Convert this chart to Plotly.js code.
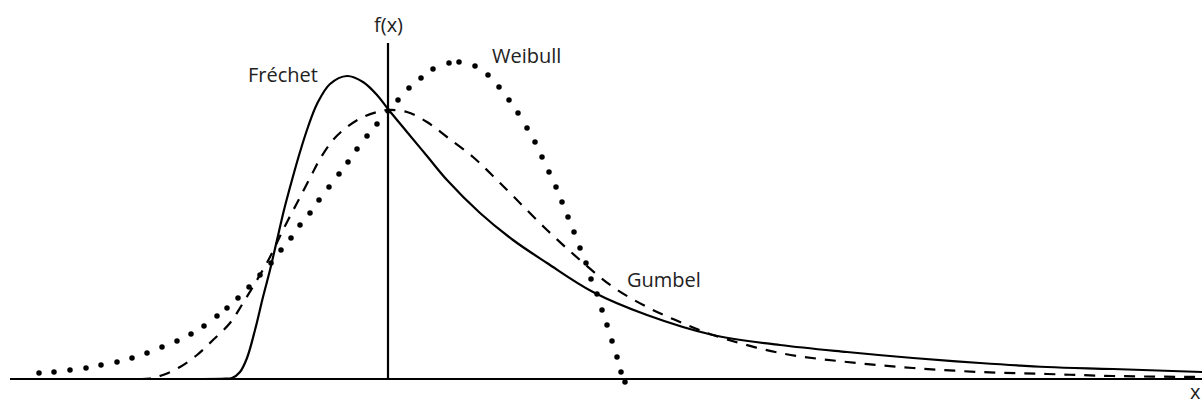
<!DOCTYPE html>
<html>
<head>
<meta charset="utf-8">
<script src="https://cdn.plot.ly/plotly-3.0.1.min.js"></script>
<style>html,body{margin:0;padding:0;background:#fff;}#chart{width:1202px;height:404px;}</style>
</head>
<body>
<div id="chart"></div>
<script>
// Fréchet density (solid)
const frechetX = [-1.88,-1.63,-1.56,-1.48,-1.41,-1.33,-1.25,-1.18,-1.11,-1.04,-0.96,-0.88,-0.80,-0.71,-0.58,-0.41,-0.25,-0.11,0,0.19,0.39,0.59,0.92,1.25,1.59,2.05,2.59,3.25,3.92,4.59,5.25,5.92,6.59,7.25,8.14];
const frechetY = [0,0.003,0.01,0.07,0.21,0.49,0.82,1.09,1.39,1.69,1.99,2.27,2.52,2.75,2.95,3.03,2.97,2.84,2.70,2.47,2.23,1.99,1.66,1.39,1.16,0.87,0.64,0.44,0.34,0.27,0.21,0.16,0.12,0.10,0.07];

// Gumbel density (dashed)
const gumbelX = [-2.48,-2.38,-2.25,-2.08,-1.91,-1.75,-1.58,-1.45,-1.31,-1.18,-1.05,-0.91,-0.78,-0.68,-0.55,-0.41,-0.25,-0.11,0,0.19,0.39,0.59,0.85,1.05,1.25,1.59,1.92,2.25,2.59,2.92,3.25,3.92,4.59,5.25,5.92,6.59,7.25,8.14];
const gumbelY = [0,0.005,0.04,0.12,0.24,0.39,0.56,0.76,0.99,1.22,1.49,1.76,2.01,2.20,2.39,2.52,2.62,2.67,2.69,2.67,2.57,2.42,2.22,2.03,1.83,1.49,1.19,0.92,0.72,0.57,0.44,0.26,0.17,0.11,0.07,0.05,0.03,0.02];

// Weibull density (dotted)
const weibullX = [-3.49,-3.34,-3.18,-3.02,-2.87,-2.71,-2.56,-2.41,-2.26,-2.11,-1.97,-1.84,-1.71,-1.61,-1.50,-1.39,-1.28,-1.17,-1.07,-0.97,-0.88,-0.78,-0.69,-0.59,-0.49,-0.40,-0.31,-0.21,-0.11,0,0.10,0.21,0.33,0.45,0.61,0.71,0.87,1.00,1.11,1.21,1.30,1.39,1.47,1.54,1.61,1.68,1.74,1.80,1.86,1.92,1.98,2.03,2.09,2.14,2.19,2.24,2.29,2.33,2.37];
const weibullY = [0.06,0.07,0.09,0.11,0.14,0.17,0.21,0.26,0.32,0.38,0.45,0.53,0.63,0.71,0.81,0.92,1.04,1.16,1.29,1.41,1.54,1.66,1.79,1.92,2.05,2.17,2.30,2.43,2.55,2.68,2.79,2.91,3.01,3.10,3.16,3.17,3.13,3.04,2.92,2.79,2.66,2.51,2.37,2.22,2.07,1.92,1.77,1.62,1.47,1.31,1.16,1.00,0.85,0.69,0.54,0.38,0.22,0.07,-0.03];

// Labels
const labelTexts = ['f(x)', 'Fréchet', 'Weibull', 'Gumbel', 'x'];
const labelX = [0, -1.05, 1.38, 2.76, 8.07];
const labelY = [3.55, 3.05, 3.24, 1.00, -0.12];

const traces = [
  {x: frechetX, y: frechetY, mode: 'lines', line: {color: '#000', width: 2.2, shape: 'spline', smoothing: 1}, name: 'Fréchet', hoverinfo: 'skip'},
  {x: gumbelX, y: gumbelY, mode: 'lines', line: {color: '#000', width: 2.2, dash: '11px,9px', shape: 'spline', smoothing: 1}, name: 'Gumbel', hoverinfo: 'skip'},
  {x: weibullX, y: weibullY, mode: 'markers', marker: {color: '#000', size: 5.5}, name: 'Weibull', cliponaxis: false, hoverinfo: 'skip'}
];

const font = {family: 'Open Sans, sans-serif', size: 20, color: '#222'};
const annotations = labelTexts.map((t, i) => ({
  x: labelX[i], y: labelY[i], xref: 'x', yref: 'y', text: t, showarrow: false,
  xanchor: 'center', yanchor: 'middle', font: font
}));

const layout = {
  width: 1202, height: 404,
  margin: {l: 0, r: 0, t: 0, b: 0},
  paper_bgcolor: '#fff', plot_bgcolor: '#fff',
  showlegend: false,
  xaxis: {range: [-3.88, 8.14], visible: false, fixedrange: true},
  yaxis: {range: [-0.25, 3.79], visible: false, fixedrange: true},
  shapes: [
    {type: 'line', xref: 'x', yref: 'y', x0: -3.78, x1: 8.14, y0: 0, y1: 0, line: {color: '#000', width: 2.2}},
    {type: 'line', xref: 'x', yref: 'y', x0: 0, x1: 0, y0: 0, y1: 3.36, line: {color: '#000', width: 2.2}}
  ],
  annotations: annotations
};

Plotly.newPlot('chart', traces, layout, {displayModeBar: false, staticPlot: true});
</script>
</body>
</html>
